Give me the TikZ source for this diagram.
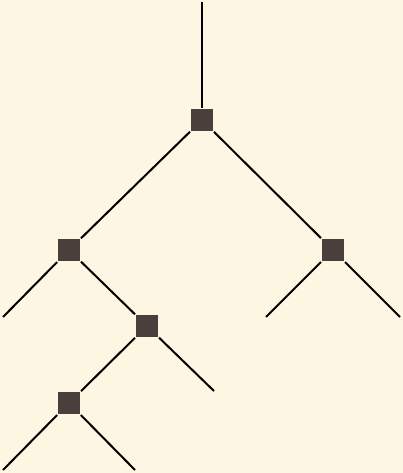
\documentclass[tikz,border=0pt]{standalone}
\usepackage{xcolor}
\usepackage{tikz}
\definecolor{paper}{HTML}{FDF6E3}
\definecolor{sqfill}{HTML}{4A3F3A}

\begin{document}
\begin{tikzpicture}[x=1pt, y=-1pt, line width=2pt,
    sq/.style={rectangle, fill=sqfill, minimum size=22pt, inner sep=0pt}]
        \fill[paper] (0, 0) rectangle (403, 473);
        \useasboundingbox (0, 0) rectangle (403, 473);
        \coordinate (top) at (202, 2);
        \node[sq] (r) at (202, 120) {};
        \node[sq] (a) at (69, 250) {};
        \node[sq] (b) at (333, 250) {};
        \node[sq] (c) at (147, 326) {};
        \node[sq] (d) at (69, 403) {};
        \coordinate (a1) at (3, 317);
        \coordinate (b1) at (266, 317);
        \coordinate (b2) at (400, 317);
        \coordinate (c1) at (214, 391);
        \coordinate (d1) at (3, 470);
        \coordinate (d2) at (135, 470);
        \draw (top) -- (r);
        \draw (r) -- (a);
        \draw (r) -- (b);
        \draw (a) -- (a1);
        \draw (a) -- (c);
        \draw (b) -- (b1);
        \draw (b) -- (b2);
        \draw (c) -- (d);
        \draw (c) -- (c1);
        \draw (d) -- (d1);
        \draw (d) -- (d2);
      \end{tikzpicture}
\end{document}
